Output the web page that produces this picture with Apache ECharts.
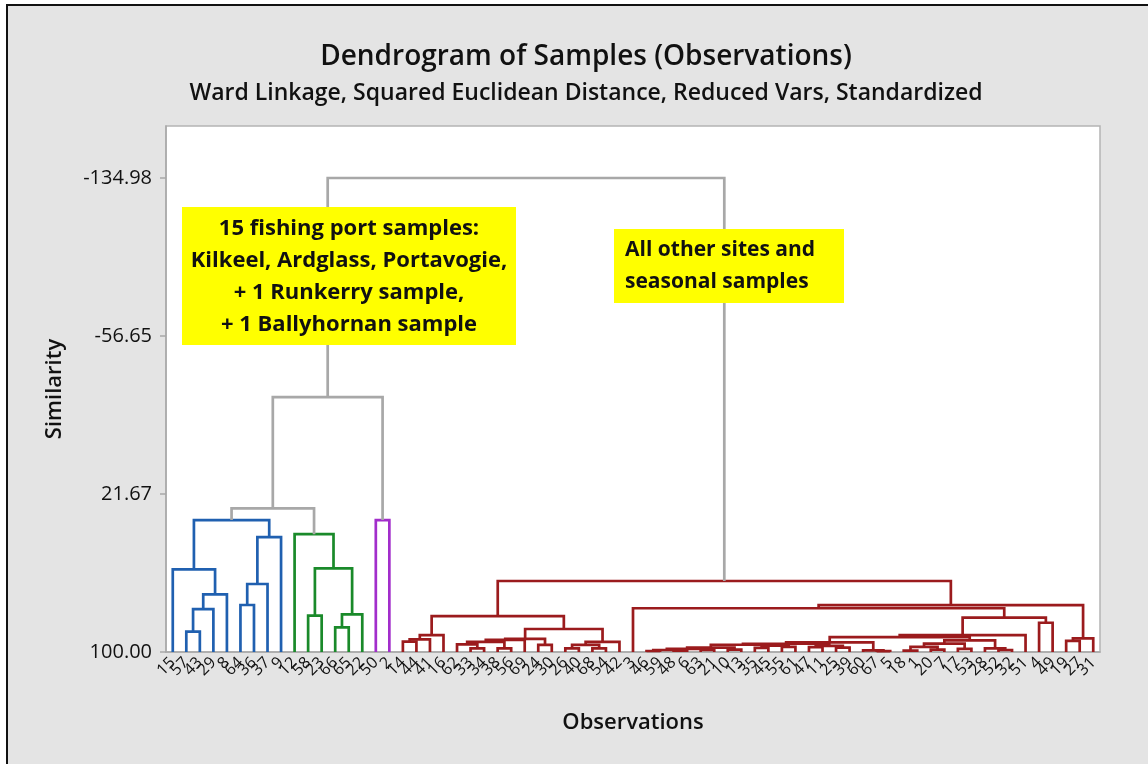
<!DOCTYPE html>
<html>
<head>
<meta charset="utf-8">
<title>Dendrogram of Samples (Observations)</title>
<script src="https://cdn.jsdelivr.net/npm/echarts@6/dist/echarts.min.js"></script>
<style>
  html, body { margin: 0; padding: 0; background: #fff; }
  #main { width: 1148px; height: 764px; }
</style>
</head>
<body>
<div id="main"></div>
<script>
// leaves in the order they are drawn, left to right
var leafLabels = [
  '15', '57', '43', '29', '8', '64', '36', '37', '9',
  '12', '58', '23', '66', '65', '22',
  '50', '2',
  '14', '44', '41', '16', '62', '33', '34', '38', '56', '69', '24', '30', '26', '40', '68', '54', '42',
  '3',
  '46', '59', '48', '6', '63', '21', '10', '13', '35', '45', '55', '61', '47', '11', '25', '39',
  '60', '67', '5',
  '18', '1', '20', '7', '17', '53', '28', '52', '32',
  '51', '4', '49', '19', '27', '31'
];

// merge k joins nodes mergeA[k] and mergeB[k] (ids < 69 are leaves, 69 + j is merge j)
var mergeA = [
  1, 69, 70, 0, 5, 73, 74, 72,
  10, 12, 78, 77, 9,
  15,
  76, 83,
  17, 85, 86, 22, 21, 24, 89, 91, 27, 92, 29, 31, 95, 97, 94, 87,
  35, 37, 101, 39, 103, 41, 105, 43, 45, 108, 107, 47, 49, 112, 111,
  52, 51, 115,
  54, 56, 119, 58, 121, 61, 60, 123,
  118, 127, 64, 128, 34, 66, 132, 131,
  100, 84
];
var mergeB = [
  2, 3, 4, 71, 6, 7, 8, 75,
  11, 13, 14, 79, 80,
  16,
  81, 82,
  18, 19, 20, 23, 88, 25, 90, 26, 28, 93, 30, 32, 96, 33, 98, 99,
  36, 38, 102, 40, 104, 42, 106, 44, 46, 109, 110, 48, 50, 113, 114,
  53, 116, 117,
  55, 57, 120, 59, 122, 62, 124, 125,
  126, 63, 65, 129, 130, 67, 68, 133,
  134, 135
];
var mergeSim = [
  89.9, 78.7, 71.4, 59.0, 76.7, 66.3, 43.1, 34.6,
  82.0, 87.8, 81.3, 58.5, 41.6,
  34.6,
  28.8, -26.4,
  94.9, 93.7, 91.6, 98.2, 96.2, 98.2, 95.0, 94.0, 96.5, 93.5, 98.2, 98.2, 96.5, 95.0, 88.6, 82.2,
  99.5, 99.3, 99.0, 99.0, 98.5, 98.8, 97.8, 98.0, 97.5, 96.8, 96.4, 97.6, 97.8, 97.0, 95.9,
  99.6, 99.2, 95.2,
  99.3, 98.8, 97.5, 98.5, 95.8, 99.0, 98.2, 94.2,
  92.6, 91.6, 85.5, 83.0, 78.3, 94.5, 93.2, 76.8,
  64.8, -134.98
];
var clusterCount = 4;

// similarity axis ticks: 100.00, 21.67, -56.65, -134.98
var simTop = -134.98;
var simStep = (100 - simTop) / 3;

var clusterColors = ['#2060b0', '#1a8a2a', '#a22ecb', '#9b1b1d'];
var linkColor = '#a8a8a8';

var n = leafLabels.length;
var M = mergeSim.length;
var nodeX = [], nodeD = [];
for (var i = 0; i < n; i++) { nodeX[i] = i; nodeD[i] = 0; }
for (var k = 0; k < M; k++) {
  nodeX[n + k] = (nodeX[mergeA[k]] + nodeX[mergeB[k]]) / 2;
  nodeD[n + k] = 100 - mergeSim[k];
}

// the (clusterCount - 1) weakest merges stay grey, clusters coloured left to right
var sortedSim = mergeSim.slice().sort(function (a, b) { return a - b; });
var grayCut = sortedSim[clusterCount - 2];
var clusterOf = [];
var nextCluster = 0;
function walk(id, c) {
  var j = id - n;
  var gray = j >= 0 && mergeSim[j] <= grayCut;
  if (c < 0 && !gray) c = nextCluster++;
  clusterOf[id] = c;
  if (j >= 0) { walk(mergeA[j], c); walk(mergeB[j], c); }
}
walk(n + M - 1, -1);

var links = [];
for (var k = 0; k < M; k++) {
  var a = mergeA[k], b = mergeB[k];
  links.push([nodeX[a], nodeD[a], nodeX[b], nodeD[b], nodeD[n + k], clusterOf[n + k]]);
}

var font = '"Open Sans", "Noto Sans", sans-serif';
var myChart = echarts.init(document.getElementById('main'));
var option = {
  backgroundColor: '#fff',
  animation: false,
  title: [
    {
      text: 'Dendrogram of Samples (Observations)',
      left: 581, top: 38, textAlign: 'center',
      textStyle: { fontFamily: font, fontSize: 28, fontWeight: 600, color: '#111' }
    },
    {
      text: 'Ward Linkage, Squared Euclidean Distance, Reduced Vars, Standardized',
      left: 581, top: 77, textAlign: 'center',
      textStyle: { fontFamily: font, fontSize: 23, fontWeight: 600, color: '#111' }
    }
  ],
  grid: {
    left: 166, top: 126, width: 934, height: 526,
    show: true, backgroundColor: '#fff', borderColor: '#b4b4b4', borderWidth: 1.5
  },
  xAxis: [
    { type: 'value', min: -0.5, max: 68.5, show: false, position: 'top' },
    {
      type: 'category', data: leafLabels, position: 'bottom', boundaryGap: true,
      name: 'Observations', nameLocation: 'middle', nameGap: 60,
      nameTextStyle: { fontFamily: font, fontSize: 22, fontWeight: 600, color: '#111' },
      axisLine: { lineStyle: { color: '#a8a8a8', width: 1.5 } },
      axisTick: { alignWithLabel: true, interval: 0, length: 6, lineStyle: { color: '#a8a8a8', width: 1.5 } },
      axisLabel: { interval: 0, rotate: 45, margin: 8, fontFamily: font, fontSize: 16, color: '#111' },
      splitLine: { show: false }
    }
  ],
  yAxis: {
    type: 'value', min: 0, max: 260.76, interval: simStep,
    name: 'Similarity', nameLocation: 'middle', nameGap: 100,
    nameTextStyle: { fontFamily: font, fontSize: 22, fontWeight: 600, color: '#111' },
    axisLine: { show: true, onZero: false, lineStyle: { color: '#a8a8a8', width: 1.5 } },
    axisTick: { show: true, length: 6, lineStyle: { color: '#a8a8a8', width: 1.5 } },
    axisLabel: {
      margin: 14, fontFamily: font, fontSize: 20, color: '#111', showMaxLabel: false,
      formatter: function (v) { return (100 - v).toFixed(2); }
    },
    splitLine: { show: false }
  },
  graphic: [
    {
      type: 'rect', z: -10, silent: true,
      shape: { x: 7, y: 5, width: 1170, height: 800 },
      style: { fill: '#e4e4e4', stroke: '#111', lineWidth: 2 }
    },
    { type: 'rect', z: 100, shape: { x: 182, y: 207, width: 334, height: 138 }, style: { fill: '#ffff00' } },
    {
      type: 'text', z: 101, x: 349, y: 213,
      style: {
        text: '15 fishing port samples:\nKilkeel, Ardglass, Portavogie,\n+ 1 Runkerry sample,\n+ 1 Ballyhornan sample',
        align: 'center', verticalAlign: 'top', lineHeight: 32,
        font: 'bold 22px ' + font, fill: '#111'
      }
    },
    { type: 'rect', z: 100, shape: { x: 614, y: 229, width: 230, height: 74 }, style: { fill: '#ffff00' } },
    {
      type: 'text', z: 101, x: 625, y: 234,
      style: {
        text: 'All other sites and\nseasonal samples',
        align: 'left', verticalAlign: 'top', lineHeight: 32,
        font: 'bold 21px ' + font, fill: '#111'
      }
    }
  ],
  series: [
    {
      type: 'custom',
      xAxisIndex: 0,
      yAxisIndex: 0,
      z: 2,
      clip: false,
      encode: { x: [0, 2], y: [1, 3, 4] },
      data: links,
      renderItem: function (params, api) {
        var xl = api.value(0), yl = api.value(1), xr = api.value(2), yr = api.value(3), h = api.value(4);
        var c = api.value(5);
        return {
          type: 'polyline',
          shape: { points: [api.coord([xl, yl]), api.coord([xl, h]), api.coord([xr, h]), api.coord([xr, yr])] },
          style: { stroke: c < 0 ? linkColor : clusterColors[c], fill: 'none', lineWidth: 2.7 }
        };
      }
    }
  ]
};
myChart.setOption(option);
</script>
</body>
</html>
